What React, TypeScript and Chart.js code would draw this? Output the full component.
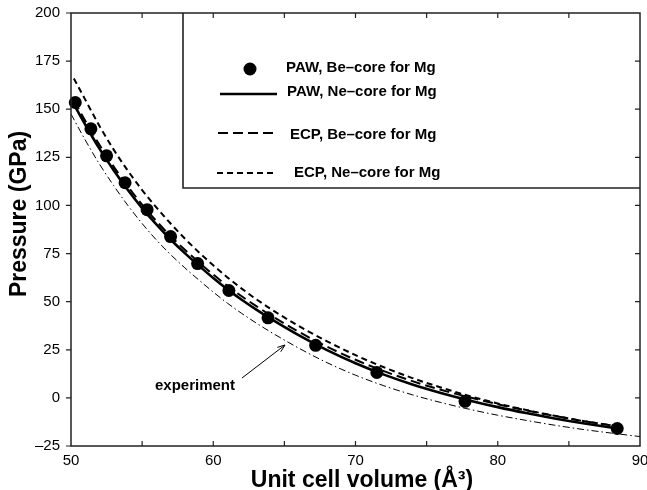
import React, { useEffect, useRef } from 'react';
import { Chart, registerables } from 'chart.js';

Chart.register(...registerables);

// PAW, Be-core for Mg (filled circles)
const pawBeV = [50.3, 51.4, 52.5, 53.8, 55.35, 57.0, 58.9, 61.1, 63.85, 67.2, 71.5, 77.7, 88.4];
const pawBeP = [153.5, 139.8, 125.8, 111.8, 97.8, 83.8, 69.8, 55.8, 41.6, 27.3, 13.2, -1.8, -15.9];

// Volumes for the calculated curves
const curveV = [50.2, 51, 52, 53, 54, 55, 56, 57, 58, 59, 60, 61, 62, 63, 64, 66, 68, 70, 72, 74, 76, 78, 80, 82, 84, 86, 88.4];
// PAW, Ne-core for Mg (solid)
const pawNeP = [152.5, 142, 129.5, 118.3, 108, 98.6, 90.1, 82.3, 75.2, 68.6, 62.3, 56.4, 51, 46, 41.3, 32.6, 24.8, 18, 12.1, 7, 2.6, -1.3, -4.8, -7.9, -10.7, -13.2, -15.9];
// ECP, Be-core for Mg (long dashes)
const ecpBeP = [154.5, 144, 131.5, 120.2, 109.9, 100.4, 91.9, 84.1, 77, 70.4, 64.1, 58.2, 52.8, 47.8, 43.1, 34.4, 26.6, 19.8, 13.9, 8.7, 4.2, 0.3, -3.3, -6.5, -9.4, -12, -14.8];
// ECP, Ne-core for Mg (short dashes)
const ecpNeP = [166, 155, 141.3, 129, 118, 108, 99, 90.6, 82.8, 75.6, 68.9, 62.6, 56.8, 51.4, 46.4, 37.4, 29.4, 22.2, 15.9, 10.3, 5.4, 1, -2.9, -6.3, -9.3, -12, -14.7];

// experiment (dash-dot)
const expV = [50, 51, 52, 53, 54, 55, 56, 57, 58, 59, 60, 61, 62, 63, 64, 66, 68, 70, 72, 74, 76, 78, 80, 82, 84, 86, 88, 90];
const expP = [147.5, 134, 121.5, 110.3, 100, 90.6, 82.1, 74.5, 67.6, 61.2, 55, 49.2, 43.9, 39, 34.4, 25.9, 18.3, 11.8, 6.3, 1.6, -2.4, -5.9, -9, -11.7, -14.2, -16.4, -18.3, -20.1];

const legendLabels = ['PAW, Be\u2013core for Mg', 'PAW, Ne\u2013core for Mg', 'ECP, Be\u2013core for Mg', 'ECP, Ne\u2013core for Mg'];
const xTitle = 'Unit cell volume (\u00C5\u00B3)';
const yTitle = 'Pressure (GPa)';
const annotationText = 'experiment';

const FONT = '"Liberation Sans", Arial, Helvetica, sans-serif';

const framePlugin = {
  id: 'frameAndDecor',
  afterDatasetsDraw(chart: any) {
    const ctx = chart.ctx as CanvasRenderingContext2D;
    const { left, right, top, bottom } = chart.chartArea;
    const xs = chart.scales.x;
    const ys = chart.scales.y;
    ctx.save();
    ctx.strokeStyle = '#222';
    ctx.lineWidth = 1.5;
    ctx.setLineDash([]);
    ctx.strokeRect(left, top, right - left, bottom - top);
    ctx.lineWidth = 1.2;
    ctx.beginPath();
    for (let v = 55; v < 90; v += 5) {
      const px = xs.getPixelForValue(v);
      ctx.moveTo(px, bottom);
      ctx.lineTo(px, bottom - 5);
      ctx.moveTo(px, top);
      ctx.lineTo(px, top + 5);
    }
    for (let v = -25; v <= 200; v += 25) {
      const py = ys.getPixelForValue(v);
      ctx.moveTo(left - 5, py);
      ctx.lineTo(left, py);
      if (v > -25 && v < 200) {
        ctx.moveTo(right, py);
        ctx.lineTo(right - 5, py);
      }
    }
    ctx.stroke();

    // legend box
    ctx.lineWidth = 1.6;
    ctx.beginPath();
    ctx.moveTo(183, top);
    ctx.lineTo(183, 188);
    ctx.lineTo(right, 188);
    ctx.stroke();

    // legend entries
    ctx.fillStyle = '#000';
    ctx.strokeStyle = '#000';
    ctx.font = 'bold 15px ' + FONT;
    ctx.textBaseline = 'middle';
    ctx.textAlign = 'left';
    ctx.beginPath();
    ctx.arc(250, 69, 6.5, 0, Math.PI * 2);
    ctx.fill();
    ctx.fillText(legendLabels[0], 286, 68);
    ctx.lineWidth = 2.6;
    ctx.setLineDash([]);
    ctx.beginPath();
    ctx.moveTo(220, 94);
    ctx.lineTo(277, 94);
    ctx.stroke();
    ctx.fillText(legendLabels[1], 287, 92);
    ctx.lineWidth = 2;
    ctx.setLineDash([10, 5]);
    ctx.beginPath();
    ctx.moveTo(218, 133);
    ctx.lineTo(275, 133);
    ctx.stroke();
    ctx.fillText(legendLabels[2], 290, 135);
    ctx.setLineDash([6, 4]);
    ctx.beginPath();
    ctx.moveTo(217, 173);
    ctx.lineTo(275, 173);
    ctx.stroke();
    ctx.fillText(legendLabels[3], 294, 173);
    ctx.setLineDash([]);

    // experiment annotation
    ctx.fillText(annotationText, 155, 386);
    ctx.lineWidth = 1;
    ctx.beginPath();
    const ax0 = 242, ay0 = 378, ax1 = 285, ay1 = 345;
    ctx.moveTo(ax0, ay0);
    ctx.lineTo(ax1, ay1);
    const ang = Math.atan2(ay1 - ay0, ax1 - ax0);
    const hl = 8;
    ctx.moveTo(ax1, ay1);
    ctx.lineTo(ax1 - hl * Math.cos(ang - 0.35), ay1 - hl * Math.sin(ang - 0.35));
    ctx.moveTo(ax1, ay1);
    ctx.lineTo(ax1 - hl * Math.cos(ang + 0.35), ay1 - hl * Math.sin(ang + 0.35));
    ctx.stroke();

    // axis titles
    ctx.font = 'bold 23px ' + FONT;
    ctx.textAlign = 'center';
    ctx.textBaseline = 'alphabetic';
    ctx.fillText(xTitle, 362, 487);
    ctx.save();
    ctx.translate(26, 214);
    ctx.rotate(-Math.PI / 2);
    ctx.fillText(yTitle, 0, 0);
    ctx.restore();
    ctx.restore();
  },
};

export default function App() {
  const ref = useRef<HTMLCanvasElement>(null);
  useEffect(() => {
    document.body.style.margin = '0';
    Chart.defaults.font.family = FONT;
    const canvas = ref.current!;
    const pts = (xs: number[], ys: number[]) => xs.map((x, i) => ({ x, y: ys[i] }));
    const lineBase = {
      borderColor: '#000',
      backgroundColor: '#000',
      pointRadius: 0,
      fill: false,
      cubicInterpolationMode: 'monotone' as const,
    };
    const chart = new Chart(canvas, {
      type: 'line',
      data: {
        datasets: [
          {
            label: legendLabels[0],
            data: pts(pawBeV, pawBeP),
            showLine: false,
            pointRadius: 6.5,
            pointBackgroundColor: '#000',
            pointBorderColor: '#000',
            pointBorderWidth: 0,
            borderColor: '#000',
            clip: false as any,
          },
          { ...lineBase, label: legendLabels[1], data: pts(curveV, pawNeP), borderWidth: 2.6 },
          { ...lineBase, label: legendLabels[2], data: pts(curveV, ecpBeP), borderWidth: 2, borderDash: [10, 5] },
          { ...lineBase, label: legendLabels[3], data: pts(curveV, ecpNeP), borderWidth: 2, borderDash: [6, 4] },
          { ...lineBase, label: annotationText, data: pts(expV, expP), borderWidth: 1, borderDash: [7, 3, 1.5, 3] },
        ],
      },
      options: {
        animation: false,
        responsive: false,
        layout: { padding: { top: 13, right: 7, left: 0, bottom: 0 } },
        plugins: { legend: { display: false }, tooltip: { enabled: false } },
        scales: {
          x: {
            type: 'linear',
            min: 50,
            max: 90,
            ticks: { stepSize: 10, padding: 6, color: '#000', font: { size: 15 }, maxRotation: 0, autoSkip: false },
            grid: { display: false, drawTicks: false },
            border: { display: false },
            afterFit: (s: any) => {
              s.height = 44;
              s.paddingLeft = 0;
              s.paddingRight = 0;
            },
          },
          y: {
            type: 'linear',
            min: -25,
            max: 200,
            ticks: {
              stepSize: 25,
              padding: 11,
              color: '#000',
              font: { size: 15 },
              callback: (v: any) => (Number(v) < 0 ? '\u2013' + Math.abs(Number(v)) : String(v)),
            },
            grid: { display: false, drawTicks: false },
            border: { display: false },
            afterFit: (s: any) => {
              s.width = 71;
              s.paddingTop = 0;
              s.paddingBottom = 0;
            },
          },
        },
      },
      plugins: [framePlugin],
    });
    return () => chart.destroy();
  }, []);
  return (
    <div style={{ width: 647, height: 490 }}>
      <canvas ref={ref} width={647} height={490} style={{ display: 'block' }} />
    </div>
  );
}
